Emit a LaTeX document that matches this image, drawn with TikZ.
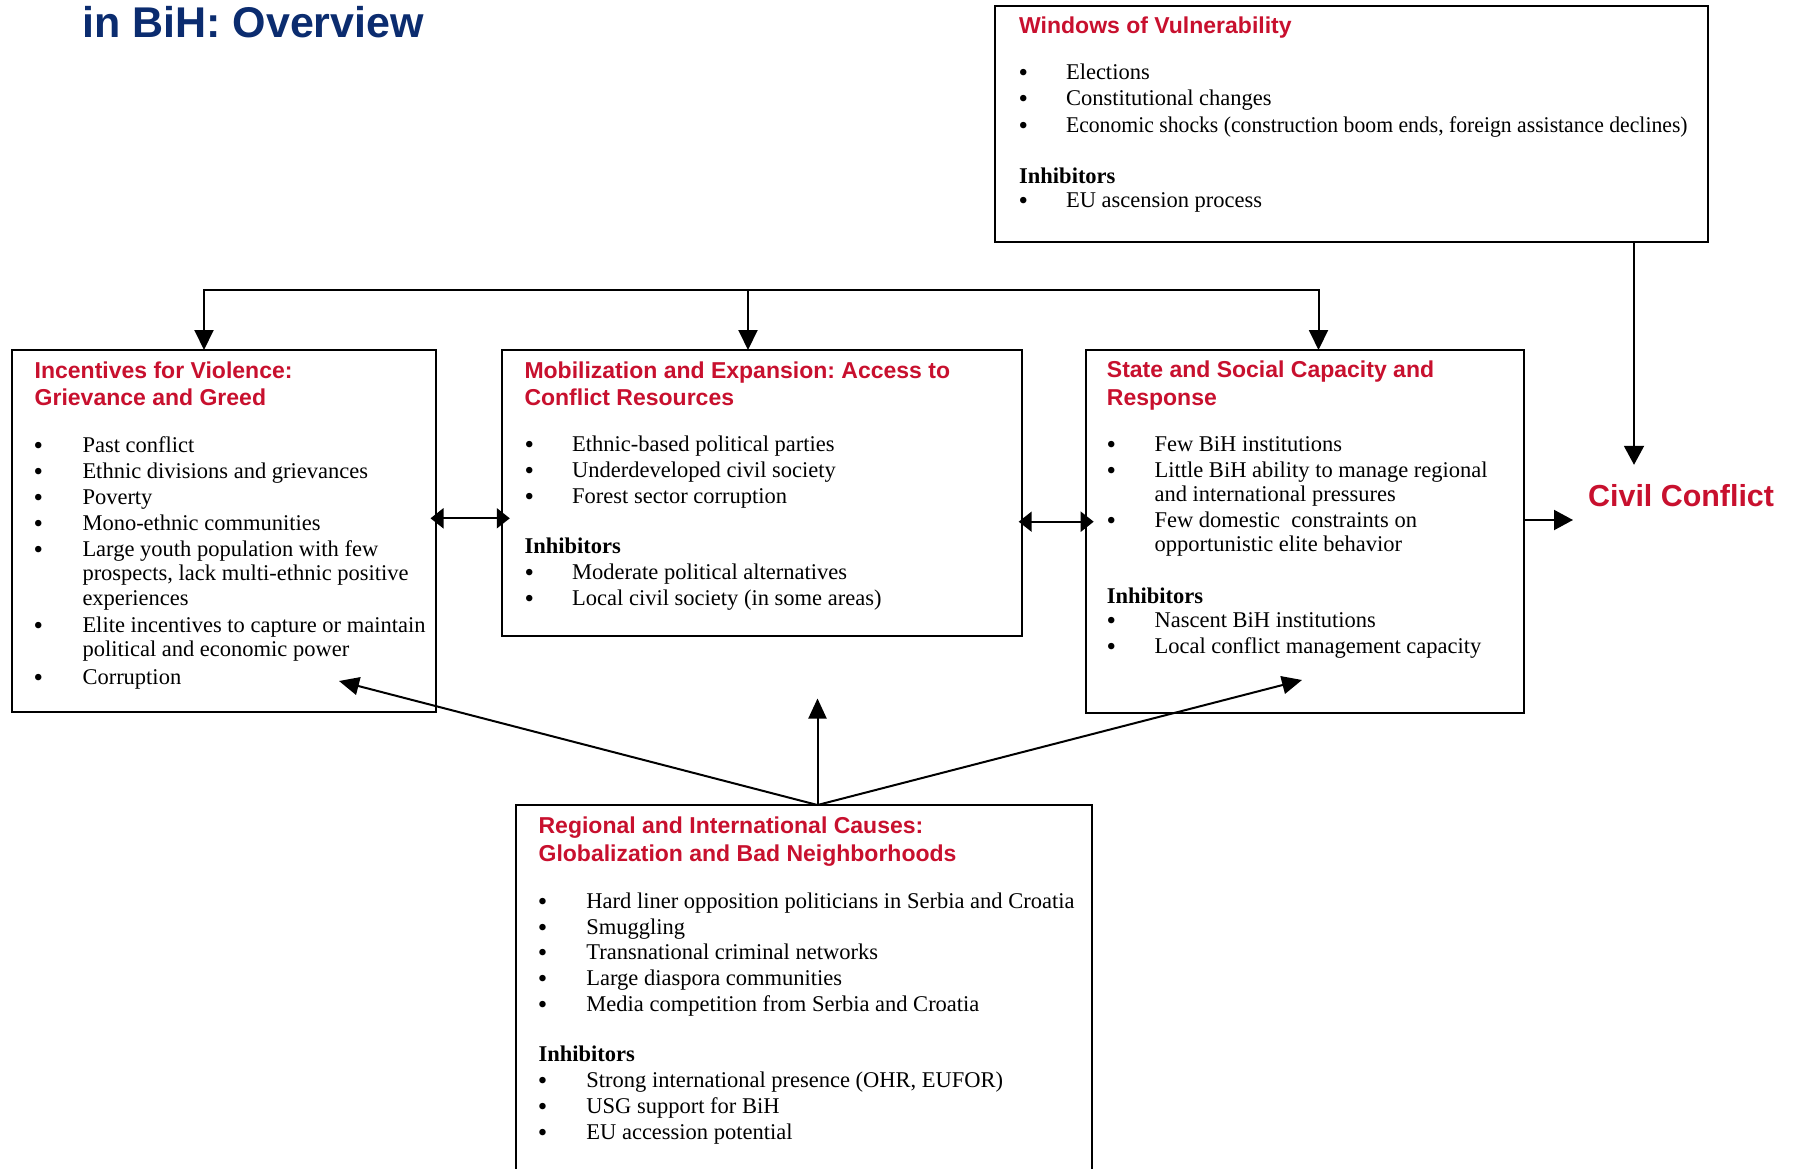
\documentclass[tikz,border=0pt]{standalone}
\usepackage{fontspec}
\setmainfont{Liberation Serif}
\newfontfamily\hsans{Liberation Sans}
\usetikzlibrary{arrows.meta,calc}
\definecolor{hred}{RGB}{200,16,46}
\definecolor{navy}{RGB}{11,44,111}
\begin{document}
\frenchspacing
\begin{tikzpicture}[x=1pt,y=-1pt,
  box/.style={draw,line width=2pt,rectangle,inner sep=0pt,outer sep=0pt,anchor=north west},
  head/.style={anchor=base west,inner sep=0pt,text=hred,font=\hsans\bfseries\fontsize{23}{27}\selectfont},
  txt/.style={anchor=base west,inner sep=0pt,font=\fontsize{22.5}{24}\selectfont},
  bul/.style={anchor=base,inner sep=0pt,yshift=-2pt,font=\fontsize{27}{30}\selectfont},
  inh/.style={anchor=base west,inner sep=0pt,font=\bfseries\fontsize{22.5}{24}\selectfont},
  conn/.style={line width=2pt,-{Triangle[length=20pt,width=18pt]}},
  dbl/.style={line width=2pt,{Triangle[length=13pt,width=20pt]}-{Triangle[length=13pt,width=20pt]}}
]
\useasboundingbox (0,0) rectangle (1793,1169);
\fill[white] (0,0) rectangle (1793,1169);
\clip (0,0) rectangle (1793,1169);

% title
\node[anchor=base west,inner sep=0pt,text=navy,font=\hsans\bfseries\fontsize{43}{50}\selectfont] (title) at (82,37.5) {in BiH: Overview};

% boxes
\node[box,minimum width=713pt,minimum height=236pt] (win) at (995,5.7) {};
\node[box,minimum width=423.5pt,minimum height=361.7pt] (inc) at (12,350) {};
\node[box,minimum width=519.7pt,minimum height=285.7pt] (mob) at (502,350) {};
\node[box,minimum width=438.3pt,minimum height=363pt] (sta) at (1085.7,350) {};
\node[box,minimum width=576.2pt,minimum height=420pt] (reg) at (515.8,805) {};
\node[anchor=base west,inner xsep=15pt,inner ysep=19.5pt,text height=22pt,text depth=0pt,text=hred,font=\hsans\bfseries\fontsize{30.4}{36}\selectfont] (cc) at (1573,506.5) {Civil Conflict};

% Windows of Vulnerability
\node[head] (wh) at (1019,33.3) {Windows of Vulnerability};
\foreach \y/\t [count=\i] in {80/Elections,106/Constitutional changes,132.3/{\scalebox{0.964}[1]{Economic shocks (construction boom ends, foreign assistance declines)}},207.3/EU ascension process}
  {\node[bul] (wb\i) at (1023.3,\y) {\textbullet}; \node[txt] (wt\i) at (1065.8,\y) {\t};}
\node[inh] (wi) at (1019,183.3) {Inhibitors};

% Incentives
\node[head] (ih1) at (34.5,378.3) {Incentives for Violence:};
\node[head] (ih2) at (34.5,405.7) {Grievance and Greed};
\foreach \y [count=\i] in {452.7,478.3,504.3,530,556.7,632.7,684}
  {\node[bul] (ib\i) at (38.3,\y) {\textbullet};}
\foreach \y/\t [count=\i] in {452.7/Past conflict,478.3/Ethnic divisions and grievances,504.3/Poverty,530/Mono-ethnic communities,556.7/Large youth population with few,580.7/{prospects, lack multi-ethnic positive},605/experiences,632.7/Elite incentives to capture or maintain,656.7/political and economic power,684/Corruption}
  {\node[txt] (it\i) at (82.3,\y) {\t};}

% Mobilization
\node[head] (mh1) at (524.3,378.3) {Mobilization and Expansion: Access to};
\node[head] (mh2) at (524.3,405.7) {Conflict Resources};
\foreach \y/\t [count=\i] in {451.7/Ethnic-based political parties,477.7/Underdeveloped civil society,503.3/Forest sector corruption,579.3/Moderate political alternatives,605.3/Local civil society (in some areas)}
  {\node[bul] (mb\i) at (529.4,\y) {\textbullet}; \node[txt] (mt\i) at (572,\y) {\t};}
\node[inh] (mi) at (524.3,553.3) {Inhibitors};

% State
\node[head] (sh1) at (1106.7,377.5) {State and Social Capacity and};
\node[head] (sh2) at (1106.7,405) {Response};
\foreach \y [count=\i] in {451.7,477.7,527.7,627.3,653.3}
  {\node[bul] (sb\i) at (1111.4,\y) {\textbullet};}
\foreach \y/\t [count=\i] in {451.7/Few BiH institutions,477.7/Little BiH ability to manage regional,501.7/and international pressures,527.7/Few domestic\ \ constraints on,551.7/opportunistic elite behavior,627.3/Nascent BiH institutions,653.3/Local conflict management capacity}
  {\node[txt] (st\i) at (1154.4,\y) {\t};}
\node[inh] (si) at (1106.7,603.3) {Inhibitors};

% Regional
\node[head] (rh1) at (538.4,833.3) {Regional and International Causes:};
\node[head] (rh2) at (538.4,861.7) {Globalization and Bad Neighborhoods};
\foreach \y/\t [count=\i] in {908.3/Hard liner opposition politicians in Serbia and Croatia,934/Smuggling,959.3/Transnational criminal networks,985/Large diaspora communities,1011.7/Media competition from Serbia and Croatia,1087.3/{Strong international presence (OHR, EUFOR)},1113.3/USG support for BiH,1139.3/EU accession potential}
  {\node[bul] (rb\i) at (542.7,\y) {\textbullet}; \node[txt] (rt\i) at (586.2,\y) {\t};}
\node[inh] (ri) at (538.4,1061.7) {Inhibitors};

% connectors
\coordinate (bl) at (204,290);
\coordinate (bm) at (748,290);
\coordinate (br) at (1318.5,290);
\draw[line width=2pt,{Triangle[length=20pt,width=19pt]}-{Triangle[length=20pt,width=19pt]}] (bl |- inc.north) -- (bl) -- (br) -- (br |- sta.north);
\draw[line width=2pt,-{Triangle[length=20pt,width=19pt]}] (bm) -- (bm |- mob.north);

\coordinate (d1) at (0,518.3);
\coordinate (d2) at (0,521.7);
\draw[dbl,shorten <=-5pt,shorten >=-7.8pt] (inc.east |- d1) -- (mob.west |- d1);
\draw[dbl,shorten <=-3pt,shorten >=-8pt] (mob.east |- d2) -- (sta.west |- d2);

\coordinate (wx) at (1634,0);
\draw[line width=2pt,-{Triangle[length=19pt,width=20pt]}] (win.south -| wx) -- (cc.north -| wx);
\coordinate (ay) at (0,520);
\draw[line width=2pt,-{Triangle[length=19pt,width=20pt]}] (sta.east |- ay) -- (cc.west |- ay);

\coordinate (apex) at ($(reg.north west)+(301.7,0)$);
\coordinate (t1) at (339,681);
\coordinate (t2) at (817.5,698.5);
\coordinate (t3) at (1302,680);
\draw[conn] (apex) -- (t1);
\draw[conn] (apex) -- (t2);
\draw[conn] (apex) -- (t3);
\end{tikzpicture}
\end{document}
